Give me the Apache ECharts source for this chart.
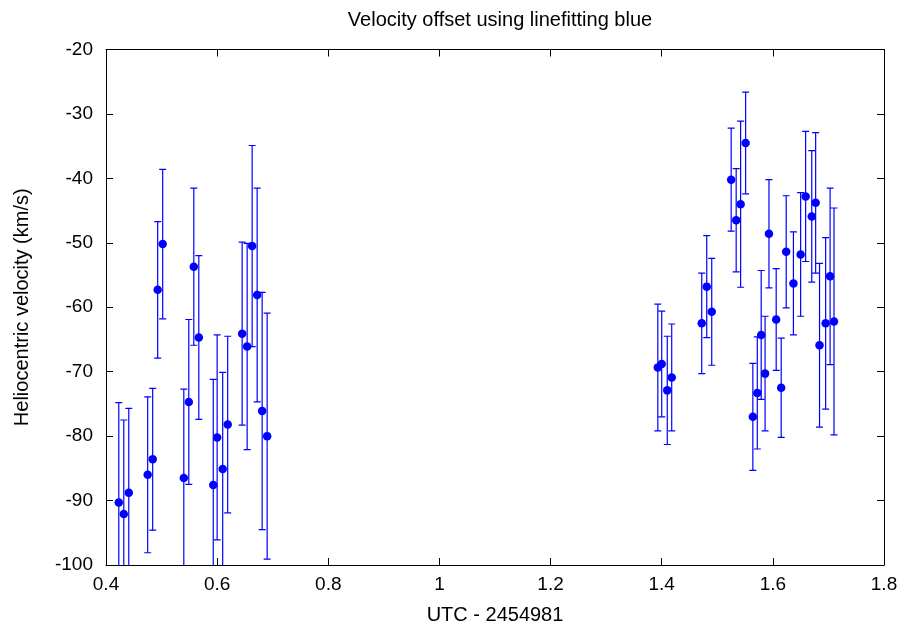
<!DOCTYPE html>
<html><head><meta charset="utf-8">
<script src="https://cdn.jsdelivr.net/npm/echarts@6/dist/echarts.min.js"></script>
<style>html,body{margin:0;padding:0;background:#fff}#c{width:908px;height:630px}</style>
</head><body><div id="c"></div>
<script>
const titleText = "Velocity offset using linefitting blue";
const xName = "UTC - 2454981";
const yName = "Heliocentric velocity (km/s)";
const utc = [0.423,0.432,0.441,0.475,0.484,0.493,0.502,0.540,0.549,0.558,0.567,0.593,0.600,0.610,0.619,0.645,0.654,0.663,0.672,0.681,0.690,
  1.393,1.400,1.410,1.418,1.472,1.481,1.490,1.525,1.534,1.542,1.551,1.564,1.572,1.579,1.586,1.593,1.606,1.615,1.624,1.637,1.650,1.659,1.670,1.677,1.684,1.695,1.703,1.710];
const velocity = [-90.3,-92.1,-88.8,-86.0,-83.6,-57.3,-50.2,-86.5,-74.7,-53.7,-64.7,-87.6,-80.2,-85.1,-78.2,-64.1,-66.1,-50.5,-58.1,-76.1,-80.0,
  -69.35,-68.8,-72.9,-70.9,-62.5,-56.8,-60.7,-40.2,-46.5,-44.0,-34.5,-77.0,-73.3,-64.3,-70.3,-48.6,-61.9,-72.5,-51.4,-56.3,-51.8,-42.8,-45.9,-43.8,-65.9,-62.5,-55.2,-62.2];
const velErr = [15.5,14.6,13.1,12.1,11.0,10.6,11.6,13.8,12.8,12.2,12.7,16.4,15.9,15.0,13.7,14.2,16.0,15.6,16.6,18.4,19.1,
  9.85,8.2,8.4,8.3,7.8,7.9,8.3,8.0,8.0,12.9,7.9,8.3,8.7,10.0,8.9,8.4,7.9,7.7,8.7,8.0,9.6,10.1,10.2,10.9,12.7,13.3,13.7,17.6];
const xTicks = [0.4,0.6,0.8,1,1.2,1.4,1.6,1.8];
const yTicks = [-100,-90,-80,-70,-60,-50,-40,-30,-20];

const pts = utc.map((x,i)=>[x, velocity[i]]);
const errData = utc.map((x,i)=>[x, velocity[i], velErr[i]]);
const font = "Liberation Sans, Arial, sans-serif";
const blue = "#0000ff";

const chart = echarts.init(document.getElementById('c'), null, {renderer:'canvas'});
const axisCommon = {
  axisLine:{show:true, onZero:false, lineStyle:{color:'#000', width:1}},
  axisTick:{show:true, inside:true, length:7, lineStyle:{color:'#000'}},
  splitLine:{show:false}
};
chart.setOption({
  animation:false,
  backgroundColor:'#fff',
  title:{text:titleText, left:495, textAlign:'center', top:5,
    textStyle:{fontFamily:font, fontSize:20, fontWeight:'normal', color:'#000'}},
  grid:{left:106, right:24, top:49.5, bottom:65, containLabel:false},
  xAxis:[
    Object.assign({type:'value', min:0.4, max:1.8, interval:0.2, position:'bottom',
      name:xName, nameLocation:'middle', nameGap:40,
      nameTextStyle:{fontFamily:font, fontSize:20, color:'#000'},
      axisLabel:{fontFamily:font, fontSize:19, color:'#000', margin:10,
        formatter:v=>String(Math.round(v*10)/10)}}, axisCommon),
    Object.assign({type:'value', min:0.4, max:1.8, interval:0.2, position:'top',
      axisLabel:{show:false}}, axisCommon)
  ],
  yAxis:[
    Object.assign({type:'value', min:-100, max:-20, interval:10, position:'left',
      name:yName, nameLocation:'middle', nameGap:74, nameRotate:90,
      nameTextStyle:{fontFamily:font, fontSize:20, color:'#000'},
      axisLabel:{fontFamily:font, fontSize:19, color:'#000', margin:13}}, axisCommon),
    Object.assign({type:'value', min:-100, max:-20, interval:10, position:'right',
      axisLabel:{show:false}}, axisCommon)
  ],
  series:[
    {type:'custom', xAxisIndex:0, yAxisIndex:0, clip:true, data:errData,
      encode:{x:0, y:1},
      renderItem:function(params, api){
        const x = api.value(0), y = api.value(1), e = api.value(2);
        const top = api.coord([x, y+e]);
        const bot = api.coord([x, y-e]);
        const hw = 3.5;
        const style = {stroke:blue, lineWidth:1.2};
        return {type:'group', children:[
          {type:'line', shape:{x1:top[0], y1:top[1], x2:bot[0], y2:bot[1]}, style:style},
          {type:'line', shape:{x1:top[0]-hw, y1:top[1], x2:top[0]+hw, y2:top[1]}, style:style},
          {type:'line', shape:{x1:bot[0]-hw, y1:bot[1], x2:bot[0]+hw, y2:bot[1]}, style:style}
        ]};
      }},
    {type:'scatter', xAxisIndex:0, yAxisIndex:0, data:pts, symbol:'circle', symbolSize:8.5,
      itemStyle:{color:blue, opacity:1}}
  ]
});
</script></body></html>
